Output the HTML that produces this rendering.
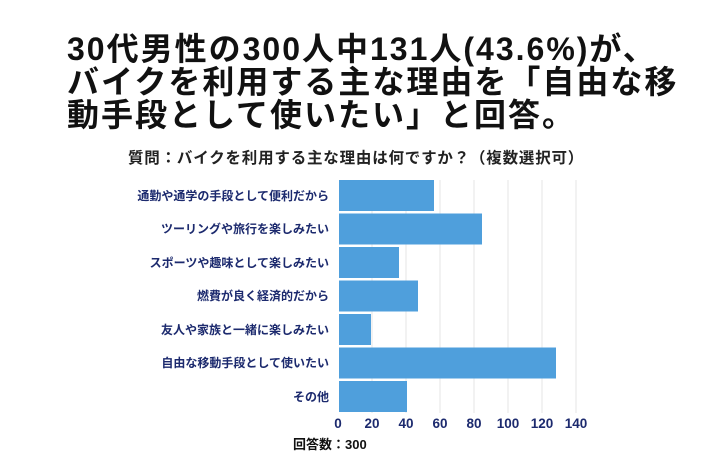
<!DOCTYPE html>
<html><head><meta charset="utf-8"><style>
body{margin:0;background:#fff;width:710px;height:474px;overflow:hidden;position:relative;font-family:"Liberation Sans","Noto Sans CJK JP",sans-serif}
.t{position:absolute;left:67px;font-weight:bold;font-size:32px;letter-spacing:2px;color:#111;white-space:nowrap;line-height:33px}
.sub{position:absolute;left:128px;top:146px;font-size:15.5px;font-weight:bold;color:#222;white-space:nowrap;letter-spacing:0.8px}
.lab{position:absolute;right:381px;font-size:12px;font-weight:bold;color:#1c2a6e;white-space:nowrap;line-height:14px}
.tick{position:absolute;top:416px;font-size:13.5px;font-weight:bold;color:#1c2a6e;width:40px;text-align:center}
</style></head><body>
<div class="t" style="top:33px">30代男性の300人中131人(43.6%)が、</div>
<div class="t" style="top:66px">バイクを利用する主な理由を「自由な移</div>
<div class="t" style="top:99px">動手段として使いたい」と回答。</div>
<div class="sub">質問：バイクを利用する主な理由は何ですか？（複数選択可）</div>
<svg width="710" height="474" style="position:absolute;left:0;top:0">
<g stroke="#e6e6e6" stroke-width="1">
<line x1="372" y1="180" x2="372" y2="413"/><line x1="406" y1="180" x2="406" y2="413"/>
<line x1="440" y1="180" x2="440" y2="413"/><line x1="474" y1="180" x2="474" y2="413"/>
<line x1="508" y1="180" x2="508" y2="413"/><line x1="542" y1="180" x2="542" y2="413"/>
<line x1="576" y1="180" x2="576" y2="413"/>
</g>
<g fill="#4f9fdc">
<rect x="339" y="180" width="95" height="31"/>
<rect x="339" y="213.5" width="143" height="31"/>
<rect x="339" y="247" width="60" height="31"/>
<rect x="339" y="280.5" width="79" height="31"/>
<rect x="339" y="314" width="32" height="31"/>
<rect x="339" y="347.5" width="217" height="31"/>
<rect x="339" y="381" width="68" height="31"/>
</g>
</svg>
<div class="lab" style="top:189px">通勤や通学の手段として便利だから</div>
<div class="lab" style="top:222px">ツーリングや旅行を楽しみたい</div>
<div class="lab" style="top:256px">スポーツや趣味として楽しみたい</div>
<div class="lab" style="top:289px">燃費が良く経済的だから</div>
<div class="lab" style="top:323px">友人や家族と一緒に楽しみたい</div>
<div class="lab" style="top:356px">自由な移動手段として使いたい</div>
<div class="lab" style="top:390px">その他</div>
<div class="tick" style="left:318px">0</div>
<div class="tick" style="left:352px">20</div>
<div class="tick" style="left:386px">40</div>
<div class="tick" style="left:420px">60</div>
<div class="tick" style="left:454px">80</div>
<div class="tick" style="left:488px">100</div>
<div class="tick" style="left:522px">120</div>
<div class="tick" style="left:556px">140</div>
<div style="position:absolute;left:293px;top:434px;font-size:13px;font-weight:bold;color:#111;white-space:nowrap">回答数：300</div>
</body></html>
